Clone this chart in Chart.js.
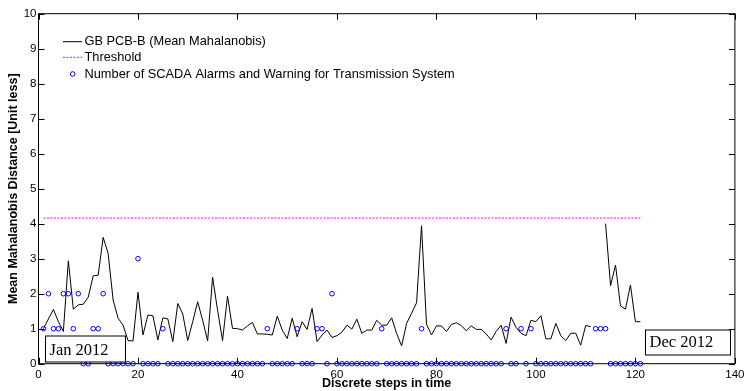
<!DOCTYPE html>
<html>
<head>
<meta charset="utf-8">
<script src="https://cdn.jsdelivr.net/npm/chart.js@4/dist/chart.umd.min.js"></script>
<style>
  html, body { margin: 0; padding: 0; background: #ffffff; }
  #wrap { width: 749px; height: 391px; }
</style>
</head>
<body>
<div id="wrap"><canvas id="c" width="749" height="391"></canvas></div>
<script>
// Discrete time steps (Jan 2012 .. Dec 2012)
const steps = [
  1,2,3,4,5,6,7,8,9,10,11,12,13,14,15,16,17,18,19,20,
  21,22,23,24,25,26,27,28,29,30,31,32,33,34,35,36,37,38,39,40,
  41,42,43,44,45,46,47,48,49,50,51,52,53,54,55,56,57,58,59,60,
  61,62,63,64,65,66,67,68,69,70,71,72,73,74,75,76,77,78,79,80,
  81,82,83,84,85,86,87,88,89,90,91,92,93,94,95,96,97,98,99,100,
  101,102,103,104,105,106,107,108,109,110,111,112,113,114,115,116,117,118,119,120,
  121
];

// GB PCB-B mean Mahalanobis distance (null = no data)
const meanDistance = [
  1.0, 1.28, 1.55, 1.2, 0.92, 2.94, 1.56, 1.68, 1.7, 1.9,
  2.51, 2.53, 3.61, 3.15, 1.82, 1.3, 1.1, 0.66, 0.65, 2.04,
  0.82, 1.39, 1.37, 0.68, 1.31, 1.28, 0.63, 1.72, 1.42, 0.66,
  1.2, 1.77, 1.24, 0.65, 2.47, 1.53, 0.66, 1.93, 1.01, 1.0,
  0.96, 1.08, 1.18, 0.85, 0.85, 0.84, 0.82, 1.36, 0.96, 0.72,
  1.3, 0.77, 1.2, 0.98, 1.58, 0.63, 0.82, 0.96, 0.75, 0.8,
  0.9, 1.1, 0.99, 1.27, 0.87, 0.96, 0.96, 1.24, 1.1, 1.1,
  1.31, 0.86, 0.51, 1.15, 1.44, 1.74, 3.94, 1.13, 0.82, 1.08,
  1.08, 0.92, 1.12, 1.17, 1.09, 0.94, 1.08, 0.98, 0.98, 0.85,
  0.68, 0.92, 1.1, 0.58, 1.33, 1.04, 0.87, 0.8, 1.24, 1.2,
  1.37, 0.71, 0.71, 1.15, 0.8, 0.66, 0.87, 0.87, 0.53, 1.09,
  1.06, null, null, 4.0, 2.23, 2.82, 1.65, 1.56, 2.25, 1.2,
  1.2
];

// Number of SCADA alarms and warnings for the transmission system
const alarmCounts = [
  1, 2, 1, 1, 2, 2, 1, 2, 0, 0,
  1, 1, 2, 0, 0, 0, 0, 0, 0, 3,
  0, 0, 0, 0, 1, 0, 0, 0, 0, 0,
  0, 0, 0, 0, 0, 0, 0, 0, 0, 0,
  0, 0, 0, 0, 0, 1, 0, 0, 0, 0,
  0, 1, 0, 0, 0, 1, 1, 0, 2, 0,
  0, 0, 0, 0, 0, 0, 0, 0, 1, 0,
  0, 0, 0, 0, 0, 0, 1, 0, 0, 0,
  0, 0, 0, 0, 0, 0, 0, 0, 0, 0,
  0, 0, 0, 1, 0, 0, 1, 0, 1, 0,
  0, 0, 0, 0, 0, 0, 0, 0, 0, 0,
  0, 1, 1, 1, 0, 0, 0, 0, 0, 0,
  0
];

// Threshold level and the span it covers
const thresholdSteps = [1, 121];
const thresholdValue = 4.16;

// Axis ticks
const xTicks = [0, 20, 40, 60, 80, 100, 120, 140];
const yTicks = [0, 1, 2, 3, 4, 5, 6, 7, 8, 9, 10];

const seriesNames = [
  'GB PCB-B (Mean Mahalanobis)',
  'Threshold',
  'Number of SCADA Alarms and Warning for Transmission System'
];
const periodLabels = ['Jan 2012', 'Dec 2012'];

const SANS = '"Liberation Sans", Arial, sans-serif';
const SERIF = '"Liberation Serif", "Times New Roman", serif';

// Frame, inward tick marks, legend and period labels
const framePlugin = {
  id: 'frame',
  afterDatasetsDraw(chart) {
    const { ctx, chartArea: a, scales: { x, y } } = chart;
    ctx.save();
    ctx.strokeStyle = '#000';
    ctx.lineWidth = 1;
    ctx.strokeRect(a.left, a.top, a.right - a.left, a.bottom - a.top);
    const tl = 6;
    ctx.beginPath();
    xTicks.forEach(v => {
      const px = Math.round(x.getPixelForValue(v)) + 0.5;
      ctx.moveTo(px, a.bottom); ctx.lineTo(px, a.bottom - tl);
      ctx.moveTo(px, a.top); ctx.lineTo(px, a.top + tl);
    });
    yTicks.forEach(v => {
      const py = Math.round(y.getPixelForValue(v)) + 0.5;
      ctx.moveTo(a.left, py); ctx.lineTo(a.left + tl, py);
      ctx.moveTo(a.right, py); ctx.lineTo(a.right - tl, py);
    });
    ctx.stroke();

    // Legend (no box)
    const ds = chart.data.datasets;
    ctx.font = '12.8px ' + SANS;
    ctx.textBaseline = 'middle';
    ctx.textAlign = 'left';
    const rows = [41.7, 57.3, 74];
    const sx0 = 63, sx1 = 82, tx = 84.5;
    // line entry
    ctx.strokeStyle = ds[0].borderColor; ctx.lineWidth = 1; ctx.setLineDash([]);
    ctx.beginPath(); ctx.moveTo(sx0, rows[0]); ctx.lineTo(sx1, rows[0]); ctx.stroke();
    ctx.fillStyle = '#000'; ctx.fillText(ds[0].label, tx, rows[0]);
    // threshold entry
    ctx.strokeStyle = ds[1].borderColor; ctx.setLineDash(ds[1].borderDash);
    ctx.beginPath(); ctx.moveTo(sx0, rows[1]); ctx.lineTo(sx1, rows[1]); ctx.stroke();
    ctx.setLineDash([]);
    ctx.fillText(ds[1].label, tx, rows[1]);
    // marker entry
    ctx.strokeStyle = ds[2].borderColor;
    ctx.beginPath(); ctx.arc(72.7, rows[2], ds[2].pointRadius, 0, Math.PI * 2); ctx.stroke();
    ctx.fillText(ds[2].label, tx, rows[2]);

    // Period text boxes
    const boxes = [
      { text: periodLabels[0], x: 45.5, y: 336, w: 80, h: 26, base: 354.5 },
      { text: periodLabels[1], x: 645.5, y: 330, w: 85, h: 25, base: 347 }
    ];
    ctx.font = '16.5px ' + SERIF;
    ctx.textBaseline = 'alphabetic';
    boxes.forEach(b => {
      ctx.fillStyle = '#fff';
      ctx.fillRect(b.x, b.y, b.w, b.h);
      ctx.strokeStyle = '#000';
      ctx.strokeRect(b.x, b.y, b.w, b.h);
      ctx.fillStyle = '#000';
      ctx.fillText(b.text, b.x + 4, b.base);
    });
    ctx.restore();
  }
};

const lineData = steps.map((s, i) => ({ x: s, y: meanDistance[i] }));
const alarmData = steps.map((s, i) => ({ x: s, y: alarmCounts[i] }));
const thresholdData = thresholdSteps.map(s => ({ x: s, y: thresholdValue }));

new Chart(document.getElementById('c'), {
  type: 'line',
  data: {
    datasets: [
      {
        label: seriesNames[0],
        data: lineData,
        borderColor: '#000000',
        borderWidth: 1,
        pointRadius: 0,
        tension: 0,
        spanGaps: false,
        order: 3
      },
      {
        label: seriesNames[1],
        data: thresholdData,
        borderColor: '#ff00ff',
        borderWidth: 1,
        borderDash: [2, 1.5],
        pointRadius: 0,
        order: 2
      },
      {
        type: 'scatter',
        label: seriesNames[2],
        data: alarmData,
        showLine: false,
        borderColor: '#0000ff',
        backgroundColor: 'rgba(0,0,0,0)',
        borderWidth: 1,
        pointRadius: 2.3,
        pointStyle: 'circle',
        clip: false,
        order: 1
      }
    ]
  },
  options: {
    responsive: false,
    animation: false,
    devicePixelRatio: 1,
    layout: { padding: { left: 0, top: 13.7, right: 10.5, bottom: 0 } },
    plugins: { legend: { display: false }, tooltip: { enabled: false } },
    scales: {
      x: {
        type: 'linear',
        min: 0, max: 140,
        afterBuildTicks: s => { s.ticks = xTicks.map(v => ({ value: v })); },
        afterFit: s => { s.height = 27.3; },
        grid: { display: false, drawTicks: false },
        border: { display: false },
        ticks: { color: '#000', font: { family: SANS, size: 11.5 }, padding: 4.5, maxRotation: 0 },
        title: {
          display: true, text: 'Discrete steps in time', color: '#000',
          font: { family: SANS, size: 12.5, weight: 'bold' }, padding: { top: 0, bottom: -0.5 }
        }
      },
      y: {
        type: 'linear',
        min: 0, max: 10,
        afterBuildTicks: s => { s.ticks = yTicks.map(v => ({ value: v })); },
        afterFit: s => { s.width = 38.5; },
        grid: { display: false, drawTicks: false },
        border: { display: false },
        ticks: { color: '#000', font: { family: SANS, size: 11.5 }, padding: 2 },
        title: {
          display: true, text: 'Mean Mahalanobis Distance [Unit less]', color: '#000',
          font: { family: SANS, size: 12.5, weight: 'bold' }, padding: { top: 6.5, bottom: 0 }
        }
      }
    }
  },
  plugins: [framePlugin]
});
</script>
</body>
</html>
